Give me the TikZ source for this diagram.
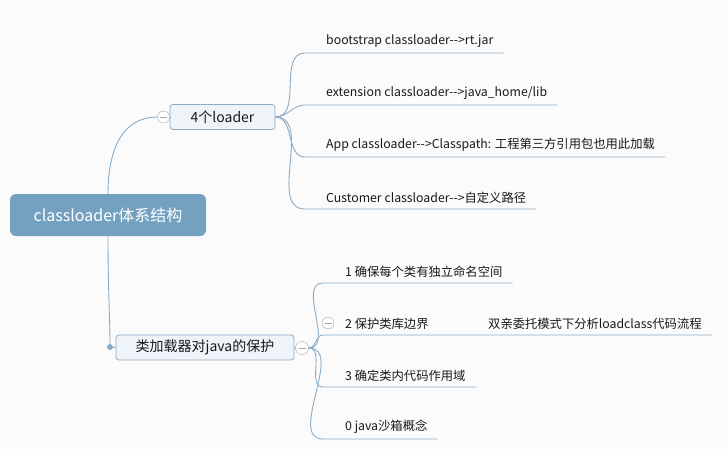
\documentclass[tikz,border=0pt]{standalone}
\usepackage{fontspec}
\setmainfont{Noto Sans CJK SC}
\usepackage{tikz}
\usetikzlibrary{positioning, calc}
\definecolor{mapbg}{RGB}{251, 251, 252}
\definecolor{maproot}{RGB}{115, 161, 191}
\definecolor{mapline}{RGB}{138, 172, 198}
\definecolor{mapfill}{RGB}{239, 244, 248}
\definecolor{mapfold}{RGB}{165, 165, 165}
\definecolor{maptext}{RGB}{25, 25, 25}

\begin{document}
\begin{tikzpicture}[
  x=1pt, y=-1pt,
  root/.style={rectangle, rounded corners=6pt, fill=maproot, text=white,
               minimum width=196pt, minimum height=42pt, font=\fontsize{16}{19}\selectfont},
  topic/.style={rectangle, rounded corners=3pt, draw=mapline, fill=mapfill, line width=0.8pt,
                minimum height=25pt, text=maptext, font=\fontsize{14}{17}\selectfont},
  leaf/.style={anchor=south west, inner xsep=10pt, inner ysep=5pt, text=maptext,
               font=\fontsize{12.3}{15}\selectfont},
  fold/.style={circle, draw=mapfold, fill=white, minimum size=12pt, inner sep=0pt,
               path picture={\draw[mapfold, line width=0.8pt]
                 ([xshift=-3.5pt]path picture bounding box.center) --
                 ([xshift=3.5pt]path picture bounding box.center);}},
  branch/.style={draw=mapline, line width=0.9pt},
]
  \fill[mapbg] (0,0) rectangle (727,449);
  \useasboundingbox (0,0) rectangle (727,449);

  % Root
  \node[root] (root) at (108,215) {classloader体系结构};

  % 4个loader
  \node[topic, minimum width=105pt] (ldr) at (222.5,117) {4个loader};
  \node[fold] (c1) at (163.5,117) {};
  \node[leaf] (l1) at (316,53) {bootstrap classloader-{}-{}>rt.jar};
  \node[leaf] (l2) at (316,105) {extension classloader-{}-{}>java\_home/lib};
  \node[leaf] (l3) at (316,157) {App classloader-{}-{}>Classpath: 工程第三方引用包也用此加载};
  \node[leaf] (l4) at (316,209) {Customer classloader-{}-{}>自定义路径};

  % 类加载器对java的保护
  \node[topic, minimum width=178pt] (prot) at (205,347.5) {类加载器对java的保护};
  \node[fold, minimum size=13pt] (c2) at (302,348) {};
  \node[circle, fill=mapline, minimum size=6pt, inner sep=0pt] (dot) at (110,347) {};
  \node[leaf] (p1) at (335,283) {1 确保每个类有独立命名空间};
  \node[leaf] (p2) at (335,335) {2 保护类库边界};
  \node[fold] (c3) at (328,323) {};
  \node[leaf] (p2a) at (478,335) {双亲委托模式下分析loadclass代码流程};
  \node[leaf] (p3) at (335,387) {3 确定类内代码作用域};
  \node[leaf] (p0) at (335,439) {0 java沙箱概念};

  \draw[branch] (root.north) .. controls (108,150) and (122,117) .. (c1.west);
  \draw[branch] (c1.east) -- (ldr.west);
  \draw[branch] (root.south) .. controls (108,290) and (110,320) .. (dot);
  \draw[branch] (dot) -- (prot.west);
  \draw[branch] (prot.east) -- (c2.west);

  \foreach \n in {l1,l2,l3,l4}
    \draw[branch] (ldr.east) to[out=0, in=180] ([xshift=-11pt]\n.south west) -- (\n.south east);
  \foreach \n in {p1,p3,p0}
    \draw[branch] (c2.east) to[out=0, in=180] ([xshift=-12pt]\n.south west) -- (\n.south east);
  \draw[branch] (c2.east) to[out=0, in=180] ([xshift=-12pt]p2.south west) -- (p2a.south east);
\end{tikzpicture}
\end{document}
